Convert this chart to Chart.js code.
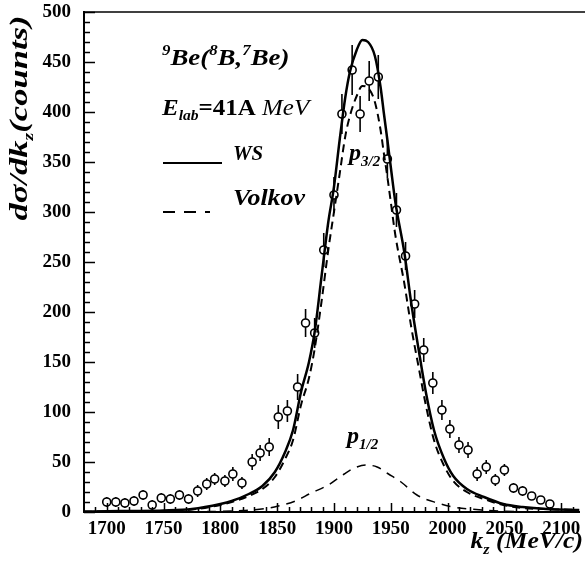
<!DOCTYPE html>
<html>
<head>
<meta charset="utf-8">
<script src="https://cdn.jsdelivr.net/npm/chart.js@4/dist/chart.umd.min.js"></script>
<style>
  html, body { margin: 0; padding: 0; background: #fff; }
  #wrap { width: 585px; height: 568px; }
</style>
</head>
<body>
<div id="wrap"><canvas id="kzChart" width="585" height="568"></canvas></div>
<script>
// measured points (k_z in MeV/c, counts) and error bar half-lengths
const kz = [1700, 1708, 1716, 1724, 1732, 1740, 1748, 1756, 1764, 1772,
  1780, 1788, 1795, 1804, 1811, 1819, 1828, 1835, 1843, 1851,
  1859, 1868, 1875, 1883, 1891, 1900, 1907, 1916, 1923, 1931,
  1939, 1947, 1955, 1963, 1971, 1979, 1987, 1995, 2002, 2010,
  2018, 2026, 2034, 2042, 2050, 2058, 2066, 2074, 2082, 2090];
const counts = [10, 10, 9, 11, 17, 7, 14, 13, 17, 13,
  21, 28, 33, 31, 38, 29, 50, 59, 65, 95,
  101, 125, 189, 179, 262, 317, 398, 442, 398, 431,
  435, 353, 302, 256, 208, 162, 129, 102, 83, 67,
  62, 38, 45, 32, 42, 24, 21, 16, 12, 8];
const errs = [5, 5, 5, 5, 5, 5, 5, 5, 5, 5,
  6, 6, 6, 6, 7, 6, 8, 8, 9, 12,
  11, 13, 14, 15, 17, 18, 20, 25, 18, 20,
  22, 19, 17, 14, 14, 12, 11, 10, 9, 8,
  8, 7, 7, 6, 6, 5, 5, 4, 4, 4];

// WS (solid) curve
const wsKz = [1680, 1700, 1725, 1750, 1775, 1800, 1810, 1825, 1837, 1848,
  1857, 1864, 1871, 1878, 1883, 1889, 1895, 1900, 1905, 1910,
  1914, 1920, 1925, 1930, 1936, 1941, 1944, 1947, 1950, 1954,
  1962, 1968, 1975, 1981, 1988, 1997, 2005, 2017, 2032, 2049,
  2066, 2087, 2116];
const wsCounts = [0.5, 0.8, 1, 1.5, 3, 8, 11, 18, 26, 40,
  60, 82, 120, 150, 180, 235, 290, 325, 372, 415,
  440, 462, 472, 470, 456, 425, 398, 372, 345, 310,
  259, 209, 159, 119, 82, 53, 36, 23, 15, 8,
  5, 3, 2];

// Volkov p3/2 (dashed) curve
const volKz = wsKz;
const volCounts = [0.3, 0.5, 0.8, 1, 2.5, 7, 10, 16, 23, 35,
  53, 72, 107, 134, 163, 210, 262, 300, 338, 376,
  396, 416, 426, 424, 410, 382, 358, 335, 310, 277,
  228, 185, 142, 106, 72, 46, 31, 20, 13, 7,
  4, 3, 2];

// p1/2 (dashed) curve
const p12Kz = [1760, 1780, 1800, 1820, 1840, 1851, 1866, 1880, 1895, 1909,
  1918, 1928, 1938, 1948, 1959, 1973, 1991, 2005, 2030, 2060, 2090];
const p12Counts = [0, 0.3, 0.6, 1.5, 3.5, 6, 11, 19, 27, 38,
  44, 47, 45, 38, 30, 17, 9, 5, 2, 0.5, 0];

const xTicks = [1700, 1750, 1800, 1850, 1900, 1950, 2000, 2050, 2100];
const yTicks = [0, 50, 100, 150, 200, 250, 300, 350, 400, 450, 500];

const SERIF = '"Liberation Serif", "Times New Roman", serif';
const pts = (xs, ys) => xs.map((x, i) => ({x: x, y: ys[i]}));

// draw a run of text pieces (sub/superscripts) with an optional horizontal stretch
function rich(ctx, x, y, parts, draw, sx) {
  sx = sx || 1;
  let w = 0;
  ctx.save();
  ctx.translate(x, y);
  ctx.scale(sx, 1);
  for (const p of parts) {
    ctx.font = p.f;
    if (draw) ctx.fillText(p.t, w, p.dy || 0);
    w += ctx.measureText(p.t).width;
  }
  ctx.restore();
  return w * sx;
}

const BI = 'italic bold 24px ' + SERIF;
const SUP = 'italic bold 15px ' + SERIF;
const SUB = 'italic bold 15px ' + SERIF;

const decor = {
  id: 'decor',
  beforeDatasetDraw(chart, args) {
    if (args.index !== 3) return;
    const ctx = chart.ctx, xs = chart.scales.x, ys = chart.scales.y;
    ctx.save();
    ctx.strokeStyle = '#000';
    ctx.lineWidth = 1.6;
    kz.forEach((k, i) => {
      const px = xs.getPixelForValue(k);
      ctx.beginPath();
      ctx.moveTo(px, ys.getPixelForValue(counts[i] - errs[i]));
      ctx.lineTo(px, ys.getPixelForValue(counts[i] + errs[i]));
      ctx.stroke();
    });
    ctx.restore();
  },
  afterDraw(chart) {
    const ctx = chart.ctx, a = chart.chartArea;
    const xs = chart.scales.x, ys = chart.scales.y;
    ctx.save();
    ctx.strokeStyle = '#000';
    // top frame
    ctx.lineWidth = 1.5;
    ctx.beginPath();
    ctx.moveTo(a.left, a.top);
    ctx.lineTo(585, a.top);
    ctx.stroke();
    // inward ticks
    ctx.beginPath();
    for (let v = 0; v <= 500; v += 10) {
      const py = Math.round(ys.getPixelForValue(v)) + 0.5;
      const len = v % 50 === 0 ? 11 : 6;
      ctx.moveTo(a.left, py);
      ctx.lineTo(a.left + len, py);
    }
    for (let v = 1690; v <= 2110; v += 10) {
      const px = Math.round(xs.getPixelForValue(v)) + 0.5;
      const len = v % 50 === 0 ? 9 : 5;
      ctx.moveTo(px, a.bottom);
      ctx.lineTo(px, a.bottom - len);
    }
    ctx.stroke();

    ctx.fillStyle = '#000';
    ctx.textAlign = 'left';
    ctx.textBaseline = 'alphabetic';
    // reaction
    rich(ctx, 162, 65, [
      {t: '9', f: SUP, dy: -10}, {t: 'Be(', f: BI},
      {t: '8', f: SUP, dy: -10}, {t: 'B,', f: BI},
      {t: '7', f: SUP, dy: -10}, {t: 'Be)', f: BI}
    ], true, 1.12);
    rich(ctx, 162, 115, [
      {t: 'E', f: BI}, {t: 'lab', f: SUB, dy: 5},
      {t: '=41A ', f: 'bold 24px ' + SERIF},
      {t: 'MeV', f: 'italic 24px ' + SERIF}
    ], true, 1.04);
    // legend
    ctx.lineWidth = 2;
    ctx.beginPath();
    ctx.moveTo(163, 163);
    ctx.lineTo(222, 163);
    ctx.stroke();
    ctx.setLineDash([12, 9]);
    ctx.beginPath();
    ctx.moveTo(163, 212);
    ctx.lineTo(210, 212);
    ctx.stroke();
    ctx.setLineDash([]);
    rich(ctx, 233, 160, [{t: 'WS', f: 'italic bold 22px ' + SERIF}], true, 0.95);
    rich(ctx, 233, 205, [{t: 'Volkov', f: BI}], true, 1.08);
    // component labels
    rich(ctx, 349, 160, [{t: 'p', f: BI}, {t: '3/2', f: SUB, dy: 6}], true);
    rich(ctx, 347, 443, [{t: 'p', f: BI}, {t: '1/2', f: SUB, dy: 6}], true);
    // x title, right aligned
    const xt = [{t: 'k', f: BI}, {t: 'z', f: SUB, dy: 6}, {t: ' (MeV/c)', f: BI}];
    const xw = rich(ctx, 0, 0, xt, false, 1.07);
    rich(ctx, 583 - xw, 548, xt, true, 1.07);
    // y title, rotated
    const YF = 'italic bold 26px ' + SERIF;
    const yt = [{t: 'd\u03c3/dk', f: YF}, {t: 'z', f: SUB, dy: 6}, {t: '(counts)', f: YF}];
    const yw = rich(ctx, 0, 0, yt, false, 1.33);
    ctx.translate(27, 118);
    ctx.rotate(-Math.PI / 2);
    rich(ctx, -yw / 2, 0, yt, true, 1.33);
    ctx.restore();
  }
};

new Chart(document.getElementById('kzChart'), {
  type: 'scatter',
  data: {
    datasets: [
      {label: 'WS', data: pts(wsKz, wsCounts), showLine: true, borderColor: '#000',
        borderWidth: 2.5, pointRadius: 0, cubicInterpolationMode: 'monotone', fill: false},
      {label: 'Volkov', data: pts(volKz, volCounts), showLine: true, borderColor: '#000',
        borderWidth: 2, borderDash: [8, 5], pointRadius: 0, cubicInterpolationMode: 'monotone', fill: false},
      {label: 'p1/2', data: pts(p12Kz, p12Counts), showLine: true, borderColor: '#000',
        borderWidth: 1.5, borderDash: [9, 7], pointRadius: 0, cubicInterpolationMode: 'monotone', fill: false},
      {label: 'data', data: pts(kz, counts), showLine: false, pointRadius: 4,
        pointBorderWidth: 1.6, pointBorderColor: '#000', pointBackgroundColor: '#fff'}
    ]
  },
  options: {
    responsive: false,
    animation: false,
    layout: {padding: {top: 12, right: 2, left: 0, bottom: 0}},
    plugins: {legend: {display: false}, tooltip: {enabled: false}},
    scales: {
      x: {
        type: 'linear', min: 1680, max: 2116,
        afterBuildTicks: s => { s.ticks = xTicks.map(v => ({value: v})); },
        afterFit: s => { s.height = 56; s.paddingLeft = 0; s.paddingRight = 0; },
        grid: {display: false, drawTicks: false},
        border: {display: true, color: '#000', width: 2},
        ticks: {color: '#000', padding: 6, maxRotation: 0, autoSkip: false,
          callback: v => String(v),
          font: {family: SERIF, size: 19, weight: 'bold'}}
      },
      y: {
        type: 'linear', min: 0, max: 500,
        afterBuildTicks: s => { s.ticks = yTicks.map(v => ({value: v})); },
        afterFit: s => { s.width = 84; s.paddingTop = 0; s.paddingBottom = 0; },
        grid: {display: false, drawTicks: false},
        border: {display: true, color: '#000', width: 2},
        ticks: {color: '#000', padding: 13, callback: v => String(v),
          font: {family: SERIF, size: 19, weight: 'bold'}}
      }
    }
  },
  plugins: [decor]
});
</script>
</body>
</html>
